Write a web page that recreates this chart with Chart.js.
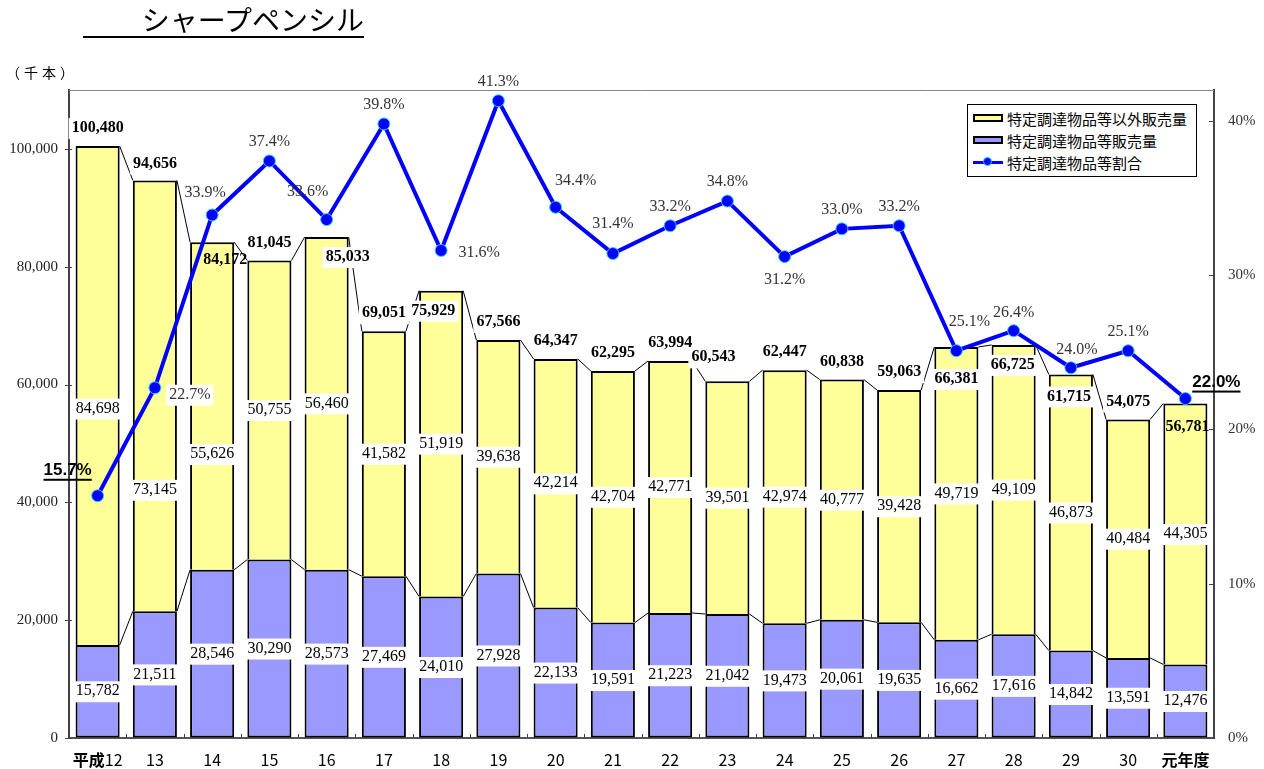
<!DOCTYPE html>
<html lang="ja">
<head>
<meta charset="utf-8">
<title>シャープペンシル</title>
<script src="https://cdn.jsdelivr.net/npm/chart.js@4.4.1/dist/chart.umd.min.js"></script>
<style>
    body { margin: 0; background: #fff; }
    .wrap { position: relative; width: 1264px; height: 769px; }
    .title {
        position: absolute; left: 83px; top: 3px; width: 281px;
        text-align: right; font: 28px "Noto Sans CJK JP", sans-serif;
        line-height: 33px; border-bottom: 2px solid #000; color: #000;
    }
    .unit { position: absolute; left: 6px; top: 62px; font: 14px "Noto Sans CJK JP", sans-serif; letter-spacing: 4px; color: #000; }
    .legend {
        position: absolute; left: 967px; top: 104px; width: 228px; height: 69px;
        border: 1px solid #000; background: #fff; padding-top: 2px; box-sizing: content-box;
    }
    .legend .row { height: 22px; display: flex; align-items: center; font: 15px "Noto Sans CJK JP", sans-serif; color: #000; }
    .legend .sw { width: 26px; height: 4px; border: 2px solid #000; margin: 0 4px 0 5px; }
    .legend .ln { position: relative; width: 30px; height: 3px; background: #0000ff; margin: 0 4px 0 5px; }
    .legend .ln::after {
        content: ""; position: absolute; left: 10px; top: -4px; width: 9px; height: 9px;
        border-radius: 50%; background: #0000ff; border: 1px solid #33ccff; box-sizing: border-box;
    }
</style>
</head>
<body>
<div class="wrap">
    <canvas id="chart"></canvas>
    <div class="title">シャープペンシル</div>
    <div class="unit">（千本）</div>
    <div class="legend">
        <div class="row"><span class="sw" style="background:#ffff99"></span>特定調達物品等以外販売量</div>
        <div class="row"><span class="sw" style="background:#9999ff"></span>特定調達物品等販売量</div>
        <div class="row"><span class="ln"></span>特定調達物品等割合</div>
    </div>
</div>
<script>
// data
const categories = ['平成12', '13', '14', '15', '16', '17', '18', '19', '20', '21',
    '22', '23', '24', '25', '26', '27', '28', '29', '30', '元年度'];
const procured = [15782, 21511, 28546, 30290, 28573, 27469, 24010, 27928, 22133, 19591,
    21223, 21042, 19473, 20061, 19635, 16662, 17616, 14842, 13591, 12476];
const nonProcured = [84698, 73145, 55626, 50755, 56460, 41582, 51919, 39638, 42214, 42704,
    42771, 39501, 42974, 40777, 39428, 49719, 49109, 46873, 40484, 44305];
const totals = [100480, 94656, 84172, 81045, 85033, 69051, 75929, 67566, 64347, 62295,
    63994, 60543, 62447, 60838, 59063, 66381, 66725, 61715, 54075, 56781];
const ratio = [15.7, 22.7, 33.9, 37.4, 33.6, 39.8, 31.6, 41.3, 34.4, 31.4,
    33.2, 34.8, 31.2, 33.0, 33.2, 25.1, 26.4, 24.0, 25.1, 22.0];
const leftTicks = [0, 20000, 40000, 60000, 80000, 100000];
const rightTicks = [0, 10, 20, 30, 40];

// label placement (pixel nudges, like the hand-moved labels in the original)
const totalDx = [0, 0, 13, 0, 21, 0, -8, 0, 0, 0, 0, -14, 0, 0, 0, 0, -1, -2, 0, 2];
const totalDy = [-18, -17, 18, -18, 20, -18, 20, -18, -18, -18, -18, -24, -18, -18, -18, 32, 20, 22, -18, 23];
const totalBoxed = [1, 1, 0, 1, 1, 1, 1, 1, 1, 1, 1, 1, 1, 1, 1, 1, 1, 1, 1, 0];
const upperDy = [13, 94, 48, 0, 0, 0, 0, 0, 0, 0, 0, 0, 0, 0, 0, 0, 0, 0, 0, 0];
const pctDx = [-30, 35, -7, 0, -19, 0, 38, 0, 20, 0, 0, 0, 0, 0, 0, 13, 0, 6, 0, 31];
const pctDy = [-25, 7, -22, -19, -28, -19, 2, -19, -26, -30, -19, -19, 23, -19, -19, -29, -18, -18, -19, -16];

const SERIF = '"Liberation Serif", "Times New Roman", serif';
const GOTHIC = '"Noto Sans CJK JP", sans-serif';
const fmt = v => v.toLocaleString('en-US');

function drawLabel(ctx, text, x, y, font, color, boxed, underline) {
    ctx.font = font;
    const w = ctx.measureText(text).width;
    if (boxed) {
        ctx.fillStyle = '#fff';
        ctx.fillRect(x - w / 2 - 3, y - 10, w + 6, 21);
    }
    ctx.fillStyle = color;
    ctx.textAlign = 'center';
    ctx.textBaseline = 'middle';
    ctx.fillText(text, x, y);
    if (underline) {
        ctx.fillRect(x - w / 2, y + 8, w, 2);
    }
}

const decorations = {
    id: 'decorations',
    beforeDatasetsDraw(chart) {
        // thin series lines joining the bar tops
        const ctx = chart.ctx;
        ctx.save();
        ctx.strokeStyle = '#000';
        ctx.lineWidth = 1;
        [0, 1].forEach(d => {
            const bars = chart.getDatasetMeta(d).data;
            for (let i = 0; i < bars.length - 1; i++) {
                const a = bars[i], b = bars[i + 1];
                ctx.beginPath();
                ctx.moveTo(a.x + a.width / 2, a.y);
                ctx.lineTo(b.x - b.width / 2, b.y);
                ctx.stroke();
            }
        });
        ctx.restore();
    },
    afterDatasetsDraw(chart) {
        const ctx = chart.ctx;
        const lower = chart.getDatasetMeta(0).data;
        const upper = chart.getDatasetMeta(1).data;
        const pts = chart.getDatasetMeta(2).data;
        ctx.save();
        categories.forEach((c, i) => {
            drawLabel(ctx, fmt(procured[i]), lower[i].x, (lower[i].y + lower[i].base) / 2,
                '16px ' + SERIF, '#000', true, false);
            drawLabel(ctx, fmt(nonProcured[i]), upper[i].x, (upper[i].y + upper[i].base) / 2 + upperDy[i],
                '16px ' + SERIF, '#000', true, false);
            drawLabel(ctx, fmt(totals[i]), upper[i].x + totalDx[i], upper[i].y + totalDy[i],
                'bold 16px ' + SERIF, '#000', totalBoxed[i], false);
            const edge = i === 0 || i === categories.length - 1;
            drawLabel(ctx, ratio[i].toFixed(1) + '%', pts[i].x + pctDx[i], pts[i].y + pctDy[i],
                edge ? 'bold 17px "Liberation Sans", Arial, sans-serif' : '16px ' + SERIF,
                edge ? '#000' : '#333', i === 1, edge);
        });
        ctx.restore();
    },
    afterDraw(chart) {
        const ctx = chart.ctx;
        const area = chart.chartArea;
        const x = chart.scales.x, y = chart.scales.y, y1 = chart.scales.y1;
        ctx.save();
        // top frame line
        ctx.strokeStyle = '#888';
        ctx.lineWidth = 1;
        ctx.beginPath();
        ctx.moveTo(area.left, area.top + 0.5);
        ctx.lineTo(area.right, area.top + 0.5);
        ctx.stroke();
        // tick marks
        ctx.strokeStyle = '#444';
        ctx.beginPath();
        leftTicks.forEach(v => {
            const py = Math.round(y.getPixelForValue(v)) + 0.5;
            ctx.moveTo(area.left - 4, py);
            ctx.lineTo(area.left + 3, py);
        });
        rightTicks.forEach(v => {
            const py = Math.round(y1.getPixelForValue(v)) + 0.5;
            ctx.moveTo(area.right - 5, py);
            ctx.lineTo(area.right, py);
        });
        for (let i = 0; i < categories.length - 1; i++) {
            const px = Math.round((x.getPixelForValue(i) + x.getPixelForValue(i + 1)) / 2) + 0.5;
            ctx.moveTo(px, area.bottom);
            ctx.lineTo(px, area.bottom - 4);
        }
        ctx.stroke();
        // category labels
        ctx.fillStyle = '#000';
        ctx.textBaseline = 'middle';
        ctx.textAlign = 'left';
        const ly = area.bottom + 22;
        categories.forEach((c, i) => {
            const cx = x.getPixelForValue(i);
            if (i === 0) {
                ctx.font = 'bold 16px ' + GOTHIC;
                const w1 = ctx.measureText('平成').width;
                ctx.font = '16px ' + GOTHIC;
                const w2 = ctx.measureText('12').width;
                const sx = cx - (w1 + w2) / 2;
                ctx.font = 'bold 16px ' + GOTHIC;
                ctx.fillText('平成', sx, ly);
                ctx.font = '16px ' + GOTHIC;
                ctx.fillText('12', sx + w1, ly);
            } else {
                ctx.font = (i === categories.length - 1 ? 'bold ' : '') + '16px ' + GOTHIC;
                const w = ctx.measureText(c).width;
                ctx.fillText(c, cx - w / 2, ly);
            }
        });
        ctx.restore();
    }
};

new Chart(document.getElementById('chart'), {
    type: 'bar',
    data: {
        labels: categories,
        datasets: [
            {
                label: '特定調達物品等販売量',
                data: procured,
                backgroundColor: '#9999ff',
                borderColor: '#000',
                borderWidth: 2,
                borderSkipped: false,
                yAxisID: 'y',
                order: 1
            },
            {
                label: '特定調達物品等以外販売量',
                data: nonProcured,
                backgroundColor: '#ffff99',
                borderColor: '#000',
                borderWidth: 2,
                borderSkipped: 'bottom',
                yAxisID: 'y',
                order: 1
            },
            {
                label: '特定調達物品等割合',
                data: ratio,
                type: 'line',
                yAxisID: 'y1',
                borderColor: '#0000ff',
                borderWidth: 4,
                pointRadius: 6,
                pointBackgroundColor: '#0000ff',
                pointBorderColor: '#33ccff',
                pointBorderWidth: 1,
                tension: 0,
                fill: false,
                order: 0
            }
        ]
    },
    options: {
        responsive: true,
        maintainAspectRatio: false,
        animation: false,
        layout: { padding: { top: 90, left: 0, right: 0, bottom: 0 } },
        datasets: { bar: { categoryPercentage: 1, barPercentage: 0.77 } },
        plugins: {
            legend: { display: false },
            tooltip: { enabled: false }
        },
        scales: {
            x: {
                stacked: true,
                grid: { display: false },
                border: { display: true, color: '#555', width: 2 },
                ticks: { display: false },
                afterFit: s => { s.height = 31; }
            },
            y: {
                stacked: true,
                min: 0,
                max: 110000,
                afterBuildTicks: s => { s.ticks = leftTicks.map(v => ({ value: v })); },
                grid: { drawOnChartArea: false, drawTicks: false },
                border: { display: true, color: '#444', width: 2 },
                ticks: {
                    padding: 11,
                    color: '#222',
                    font: { family: SERIF, size: 15 },
                    callback: v => fmt(v)
                },
                afterFit: s => { s.width = 69; }
            },
            y1: {
                position: 'right',
                min: 0,
                max: 42,
                afterBuildTicks: s => { s.ticks = rightTicks.map(v => ({ value: v })); },
                grid: { drawOnChartArea: false, drawTicks: false },
                border: { display: true, color: '#444', width: 2 },
                ticks: {
                    padding: 14,
                    color: '#333',
                    font: { family: SERIF, size: 15 },
                    callback: v => v + '%'
                },
                afterFit: s => { s.width = 50; }
            }
        }
    },
    plugins: [decorations]
});
</script>
</body>
</html>
